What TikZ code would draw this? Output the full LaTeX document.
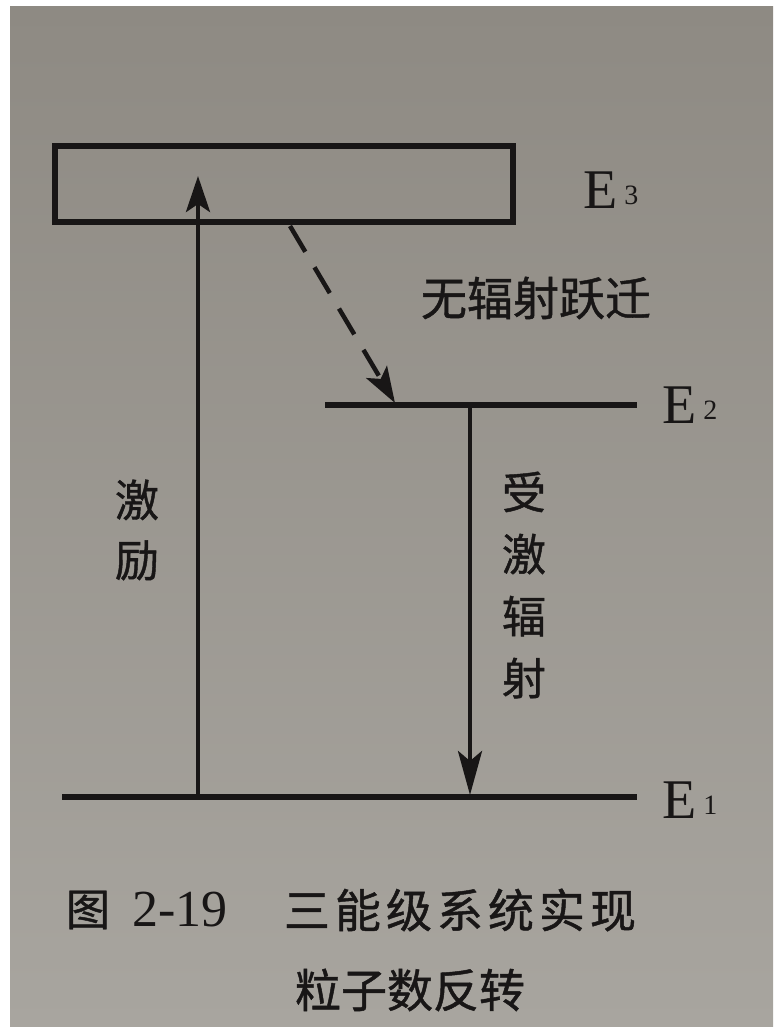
\documentclass[tikz,border=0pt]{standalone}
\usepackage{fontspec}
\setmainfont{Liberation Serif}
\newfontfamily\cjk[FakeBold=1]{Noto Sans CJK SC}
\usetikzlibrary{arrows.meta}
\definecolor{paperTop}{RGB}{142,138,131}
\definecolor{paperBot}{RGB}{168,165,159}
\definecolor{ink}{RGB}{24,22,22}

\begin{document}
\begin{tikzpicture}[x=1pt,y=-1pt,
  level/.style={draw=ink,line width=6pt},
  jump/.style={draw=ink,line width=4.5pt,-{Stealth[length=36pt,width=24pt,inset=8pt]}},
  elabel/.style={text=ink,inner sep=0pt,anchor=west,font=\fontsize{56}{56}\selectfont},
  hanzi/.style={text=ink,inner sep=0pt,font=\cjk\fontsize{44}{62}\selectfont,align=center}]
\useasboundingbox (0,0) rectangle (773,1027);
\fill[white] (0,0) rectangle (773,1027);
\shade[top color=paperTop,bottom color=paperBot] (10,7) rectangle (773,1027);

% energy levels
\node[level,minimum width=458pt,minimum height=76pt,inner sep=0pt] (lvl3) at (284,184) {};
\coordinate (e2l) at (325,405);
\coordinate (e2r) at (637,405);
\coordinate (e1l) at (62,797);
\coordinate (e1r) at (637,797);
\draw[level] (e2l) -- (e2r);
\draw[level] (e1l) -- (e1r);

\node[elabel] (E3) at (583,190) {E\hspace{7pt}{\fontsize{28}{28}\selectfont\raisebox{4pt}{3}}};
\node[elabel] (E2) at (662,405) {E\hspace{7pt}{\fontsize{28}{28}\selectfont\raisebox{4pt}{2}}};
\node[elabel] (E1) at (662,800) {E\hspace{7pt}{\fontsize{28}{28}\selectfont\raisebox{4pt}{1}}};

% transitions
\coordinate (pumpFoot) at (198,797);
\coordinate (pumpTop) at (198,176);
\draw[jump] (pumpFoot) -- (pumpTop);
\coordinate (dropTop) at (290,226);
\coordinate (dropFoot) at (395,403);
\draw[jump,dash pattern=on 30pt off 18pt] (dropTop) -- (dropFoot);
\coordinate (stimTop) at (470,405);
\coordinate (stimFoot) at (470,795);
\draw[jump,-{Stealth[length=44pt,width=24pt,inset=10pt]}] (stimTop) -- (stimFoot);

\node[hanzi,font=\cjk\fontsize{46}{46}\selectfont] (nonrad) at (536,298) {无辐射跃迁};
\node[hanzi,font=\cjk\fontsize{44}{60}\selectfont] (pump) at (137,530) {激\\励};
\node[hanzi] (stim) at (524,585) {受\\激\\辐\\射};

% caption
\node[hanzi,font=\cjk\fontsize{44}{44}\selectfont] (fig) at (88,910) {图};
\node[text=ink,inner sep=0pt,font=\fontsize{52}{52}\selectfont] (fignum) at (180,910) {2-19};
\node[hanzi,font=\cjk\fontsize{46}{46}\selectfont] (cap1) at (460,910) {三\hspace{5pt}能\hspace{5pt}级\hspace{5pt}系\hspace{5pt}统\hspace{5pt}实\hspace{5pt}现};
\node[hanzi,font=\cjk\fontsize{46}{46}\selectfont] (cap2) at (410,990) {粒子数反转};
\end{tikzpicture}
\end{document}
